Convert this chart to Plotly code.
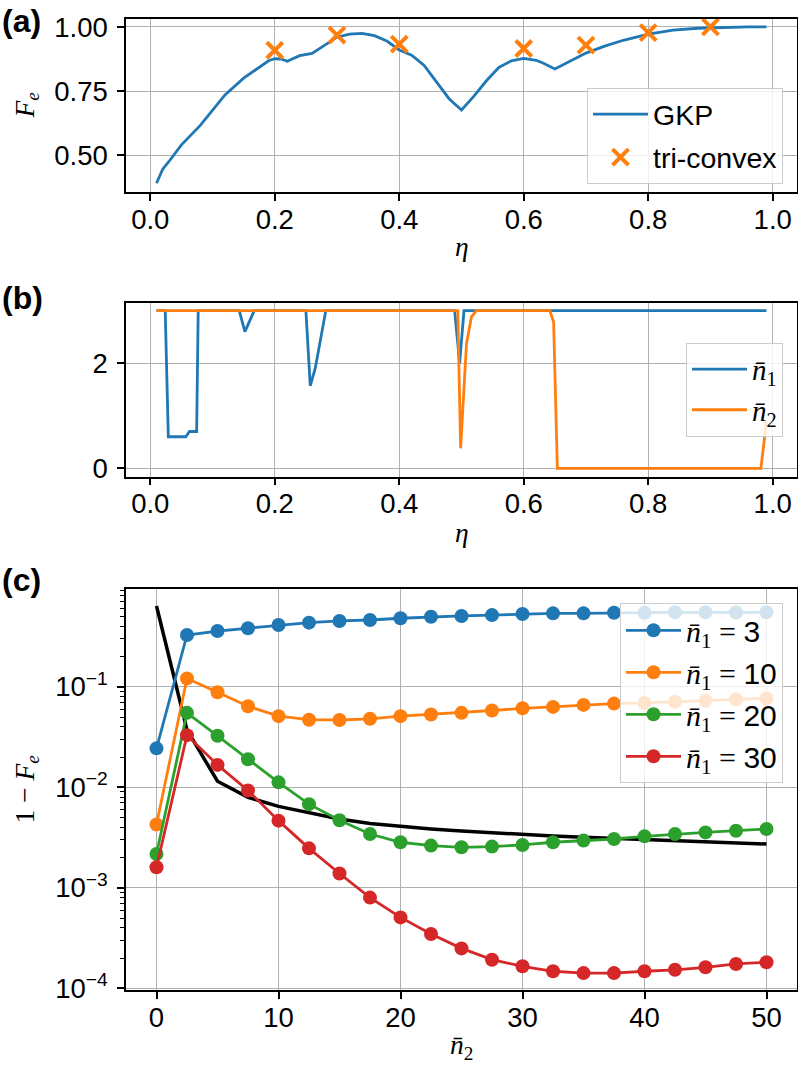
import plotly.graph_objects as go

# ---------------- data ----------------
# (a) entanglement fidelity vs eta
eta_gkp = [0.01, 0.02, 0.03, 0.05, 0.08, 0.10, 0.12, 0.15, 0.17, 0.19, 0.20, 0.21, 0.22,
           0.24, 0.26, 0.28, 0.30, 0.32, 0.34, 0.36, 0.38, 0.40, 0.42, 0.44, 0.46, 0.48,
           0.50, 0.52, 0.54, 0.56, 0.58, 0.60, 0.62, 0.63, 0.65, 0.68, 0.70, 0.73, 0.76,
           0.80, 0.84, 0.88, 0.92, 0.96, 0.99]
fe_gkp = [0.39, 0.445, 0.475, 0.54, 0.615, 0.675, 0.735, 0.80, 0.835, 0.868, 0.876, 0.875, 0.866,
          0.888, 0.897, 0.93, 0.96, 0.972, 0.975, 0.966, 0.945, 0.91, 0.89, 0.85, 0.785, 0.72,
          0.676, 0.73, 0.79, 0.842, 0.868, 0.877, 0.87, 0.86, 0.836, 0.875, 0.898, 0.925, 0.948,
          0.972, 0.988, 0.995, 0.998, 1.0, 1.0]
eta_tri = [0.2, 0.3, 0.4, 0.6, 0.7, 0.8, 0.9]
fe_tri = [0.909, 0.968, 0.933, 0.916, 0.929, 0.978, 1.0]

# (b) optimal photon numbers vs eta
eta_n1 = [0.01, 0.024, 0.029, 0.057, 0.063, 0.0745, 0.077, 0.143, 0.152, 0.167, 0.250, 0.257,
          0.265, 0.274, 0.282, 0.489, 0.497, 0.504, 0.99]
n1_opt = [3, 3, 0.6, 0.6, 0.7, 0.7, 3, 3, 2.6, 3, 3, 1.57, 1.9, 2.46, 3, 3, 2.0, 3, 3]
eta_n2 = [0.01, 0.494, 0.4986, 0.508, 0.516, 0.524, 0.642, 0.648, 0.654, 0.981, 0.99]
n2_opt = [3, 3, 0.38, 2.37, 2.88, 3, 3, 2.78, 0, 0, 0.9]

# (c) infidelity vs n2
n2_vals = [0, 2.5, 5, 7.5, 10, 12.5, 15, 17.5, 20, 22.5, 25, 27.5, 30, 32.5, 35, 37.5, 40,
           42.5, 45, 47.5, 50]
inf_n1_3 = [0.0244, 0.327, 0.358, 0.381, 0.411, 0.434, 0.451, 0.461, 0.48, 0.497, 0.506, 0.516,
            0.528, 0.537, 0.537, 0.545, 0.545, 0.55, 0.55, 0.55, 0.55]
inf_n1_10 = [0.00426, 0.121, 0.088, 0.064, 0.051, 0.047, 0.0467, 0.048, 0.051, 0.053, 0.055,
             0.058, 0.061, 0.063, 0.066, 0.068, 0.069, 0.071, 0.0726, 0.0748, 0.0766]
inf_n1_20 = [0.00217, 0.055, 0.0325, 0.019, 0.0112, 0.0068, 0.0047, 0.00343, 0.00284, 0.00263,
             0.00253, 0.00257, 0.00267, 0.00284, 0.00295, 0.00306, 0.00325, 0.00343, 0.00356,
             0.0037, 0.00385]
inf_n1_30 = [0.0016, 0.033, 0.0167, 0.0093, 0.00466, 0.00247, 0.00139, 0.0008, 0.000508,
             0.000347, 0.00025, 0.000193, 0.000166, 0.000148, 0.000142, 0.000142, 0.000148,
             0.000153, 0.000162, 0.000175, 0.000182]
inf_black = [0.635, 0.0372, 0.01148, 0.00794, 0.00646, 0.00556, 0.00484, 0.00437, 0.00407,
             0.00385, 0.00367, 0.00351, 0.00337, 0.00327, 0.00318, 0.00309, 0.00301, 0.00293,
             0.00286, 0.0028, 0.00273]
series_c = [("3", inf_n1_3), ("10", inf_n1_10), ("20", inf_n1_20), ("30", inf_n1_30)]

eta_ticks = [0.0, 0.2, 0.4, 0.6, 0.8, 1.0]
eta_ticktext = ["0.0", "0.2", "0.4", "0.6", "0.8", "1.0"]
fa_ticks = [0.5, 0.75, 1.0]
fa_ticktext = ["0.50", "0.75", "1.00"]
nb_ticks = [0, 2]
nb_ticktext = ["0", "2"]
n2_ticks = [0, 10, 20, 30, 40, 50]
log_ticks = [1e-4, 1e-3, 1e-2, 1e-1]
log_ticktext = ["10<sup>\u22124</sup>", "10<sup>\u22123</sup>", "10<sup>\u22122</sup>",
                "10<sup>\u22121</sup>"]

# ---------------- styling ----------------
W, H = 798, 1066
BLUE, ORANGE, GREEN, RED = "#1f77b4", "#ff7f0e", "#2ca02c", "#d62728"
SANS = "Liberation Sans"
SERIF = "Liberation Serif"
FS = 27.5


def px_x(p):
    return p / W


def px_y(p):
    return 1 - p / H


fig = go.Figure()

# (a)
fig.add_trace(go.Scatter(x=eta_gkp, y=fe_gkp, mode="lines", name="GKP",
                         line=dict(color=BLUE, width=2.8), xaxis="x", yaxis="y",
                         legend="legend", legendgroup="a1"))
fig.add_trace(go.Scatter(x=eta_tri, y=fe_tri, mode="markers", name="tri-convex",
                         marker=dict(symbol="x-thin", size=16, color=ORANGE,
                                     line=dict(color=ORANGE, width=4)),
                         xaxis="x", yaxis="y", legend="legend", legendgroup="a2"))

# (b)
nb1 = "<i>n\u0304</i><sub>1</sub>"
nb2 = "<i>n\u0304</i><sub>2</sub>"
fig.add_trace(go.Scatter(x=eta_n1, y=n1_opt, mode="lines", name=nb1,
                         line=dict(color=BLUE, width=2.8), xaxis="x2", yaxis="y2",
                         legend="legend2", legendgroup="b1"))
fig.add_trace(go.Scatter(x=eta_n2, y=n2_opt, mode="lines", name=nb2,
                         line=dict(color=ORANGE, width=2.8), xaxis="x2", yaxis="y2",
                         legend="legend2", legendgroup="b2"))

# (c)
fig.add_trace(go.Scatter(x=n2_vals, y=inf_black, mode="lines", showlegend=False,
                         line=dict(color="black", width=3.5), xaxis="x3", yaxis="y3"))
for i, ((lab, vals), col) in enumerate(zip(series_c, [BLUE, ORANGE, GREEN, RED])):
    fig.add_trace(go.Scatter(
        x=n2_vals, y=vals, mode="lines+markers",
        name=nb1 + " = <span style='font-family:" + SANS + "'>" + lab + "</span>",
        line=dict(color=col, width=2.8), marker=dict(color=col, size=14),
        xaxis="x3", yaxis="y3", legend="legend3", legendgroup="c%d" % i))

axis_common = dict(showline=True, linecolor="black", linewidth=1.5, mirror=True,
                   ticks="outside", ticklen=7, tickwidth=1.5, tickcolor="black",
                   showgrid=True, gridcolor="#b0b0b0", gridwidth=1, zeroline=False,
                   tickfont=dict(family=SANS, size=FS, color="black"), automargin=False)
xax = dict(axis_common, ticklabelstandoff=-5)
yax = dict(axis_common, ticklabelstandoff=4)

leg_common = dict(xanchor="right", yanchor="top", bgcolor="rgba(255,255,255,0.8)",
                  bordercolor="#cccccc", borderwidth=1, traceorder="grouped",
                  itemwidth=55)

xdom = [px_x(126), px_x(797)]
fig.update_layout(
    width=W, height=H, margin=dict(l=0, r=0, t=0, b=0),
    paper_bgcolor="white", plot_bgcolor="white", template="none",
    font=dict(family=SANS, size=FS, color="black"),
    xaxis=dict(xax, domain=xdom, anchor="y", range=[-0.039, 1.039],
               tickvals=eta_ticks, ticktext=eta_ticktext),
    yaxis=dict(yax, domain=[px_y(192), px_y(19)], anchor="x", range=[0.356, 1.031],
               tickvals=fa_ticks, ticktext=fa_ticktext),
    xaxis2=dict(xax, domain=xdom, anchor="y2", range=[-0.039, 1.039],
                tickvals=eta_ticks, ticktext=eta_ticktext),
    yaxis2=dict(yax, domain=[px_y(476.7), px_y(302.7)], anchor="x2",
                range=[-0.16, 3.15], tickvals=nb_ticks, ticktext=nb_ticktext),
    xaxis3=dict(xax, domain=xdom, anchor="y3", range=[-2.5, 52.5],
                tickvals=n2_ticks, ticktext=[str(v) for v in n2_ticks]),
    yaxis3=dict(yax, domain=[px_y(990), px_y(589)], anchor="x3", type="log",
                range=[-4.016, -0.028], tickvals=log_ticks, ticktext=log_ticktext,
                minor=dict(ticks="outside", ticklen=4, tickwidth=1, tickcolor="black",
                           showgrid=False,
                           tickvals=[m * d for d in [1e-4, 1e-3, 1e-2, 1e-1]
                                     for m in range(2, 10)])),
    legend=dict(leg_common, x=px_x(783), y=px_y(88), tracegroupgap=3,
                font=dict(family=SANS, size=28.5)),
    legend2=dict(leg_common, x=px_x(783), y=px_y(342.7), tracegroupgap=0,
                 font=dict(family=SERIF, size=29)),
    legend3=dict(leg_common, x=px_x(783), y=px_y(603.3), tracegroupgap=0,
                 font=dict(family=SERIF, size=30)),
)

ann = []
# panel labels
for txt, y in [("(a)", 21), ("(b)", 298), ("(c)", 580)]:
    ann.append(dict(text="<b>" + txt + "</b>", x=px_x(0), y=px_y(y), xanchor="left",
                    yanchor="middle", font=dict(family=SANS, size=32)))
# axis titles
ann.append(dict(text="<i>\u03b7</i>", x=px_x(461.5), y=px_y(247), xanchor="center",
                yanchor="middle", font=dict(family=SERIF, size=FS)))
ann.append(dict(text="<i>\u03b7</i>", x=px_x(461.5), y=px_y(532), xanchor="center",
                yanchor="middle", font=dict(family=SERIF, size=FS)))
ann.append(dict(text=nb2, x=px_x(461.5), y=px_y(1046), xanchor="center",
                yanchor="middle", font=dict(family=SERIF, size=FS)))
ann.append(dict(text="<i>F</i><sub><i>e</i></sub>", x=px_x(26), y=px_y(105.5),
                xanchor="center", yanchor="middle", textangle=-90,
                font=dict(family=SERIF, size=FS)))
ann.append(dict(text="1 \u2212 <i>F</i><sub><i>e</i></sub>", x=px_x(26), y=px_y(789.5),
                xanchor="center", yanchor="middle", textangle=-90,
                font=dict(family=SERIF, size=FS)))
for a in ann:
    a.update(xref="paper", yref="paper", showarrow=False)
fig.update_layout(annotations=ann)

fig.write_html(
    "out.html",
    config={"displayModeBar": False},
    post_script="document.body.style.margin='0px';"
                "document.body.style.overflow='hidden';"
                "document.documentElement.style.overflow='hidden';")
